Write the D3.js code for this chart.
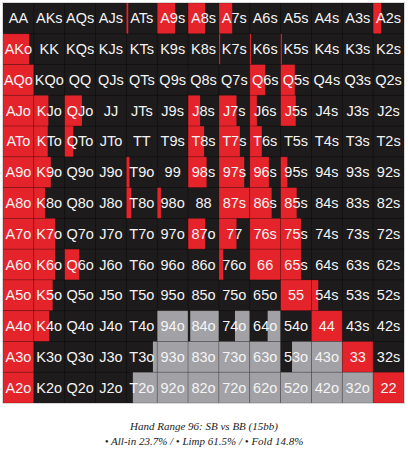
<!DOCTYPE html>
<html>
<head>
<meta charset="utf-8">
<script src="https://cdn.jsdelivr.net/npm/d3@7/dist/d3.min.js"></script>
<style>
  body { margin: 0; background: #fff; }
  svg { display: block; }
</style>
</head>
<body>
<div id="chart"></div>
<script>
const ranks = ["A","K","Q","J","T","9","8","7","6","5","4","3","2"];

// fraction of each cell that is all-in (row = first rank for offsuit/pairs, col = second)
const allInRows = [
  [0, 0, 0, 0, 0.06, 0.58, 0.55, 0.43, 0, 0, 0, 0, 0.26],
  [0.85, 0, 0, 0, 0, 0, 0, 0.04, 0.04, 0.04, 0, 0, 0],
  [1, 0, 0, 0, 0, 0, 0, 0, 0.5, 0.46, 0, 0, 0],
  [1, 0.47, 0.56, 0, 0, 0, 0.39, 0.57, 0.23, 0.49, 0, 0, 0],
  [1, 0.45, 0.28, 0, 0, 0, 0.52, 0.68, 0.39, 0, 0, 0, 0],
  [1, 0.55, 0, 0, 0.1, 0, 0.6, 0.82, 0.62, 0.22, 0, 0, 0],
  [1, 0.36, 0, 0, 0.16, 0.12, 0, 1, 0.71, 0.52, 0, 0, 0],
  [1, 0.69, 0, 0, 0, 0, 0.55, 0.57, 1, 0.66, 0, 0, 0],
  [1, 0.69, 0.47, 0, 0, 0, 0, 0.14, 1, 0.66, 0, 0, 0],
  [1, 0.61, 0, 0, 0, 0, 0, 0, 0, 1, 0.22, 0, 0],
  [1, 0.5, 0, 0, 0, 0, 0, 0, 0, 0, 1, 0, 0],
  [1, 0, 0, 0, 0, 0, 0, 0, 0, 0, 0, 1, 0],
  [1, 0, 0, 0, 0, 0, 0, 0, 0, 0, 0, 0, 1]
];

// fraction of each cell that is fold
const foldRows = [
  [0,0,0,0,0,0,0,0,0,0,0,0,0],
  [0,0,0,0,0,0,0,0,0,0,0,0,0],
  [0,0,0,0,0,0,0,0,0,0,0,0,0],
  [0,0,0,0,0,0,0,0,0,0,0,0,0],
  [0,0,0,0,0,0,0,0,0,0,0,0,0],
  [0,0,0,0,0,0,0,0,0,0,0,0,0],
  [0,0,0,0,0,0,0,0,0,0,0,0,0],
  [0,0,0,0,0,0,0,0,0,0,0,0,0],
  [0,0,0,0,0,0,0,0,0,0,0,0,0],
  [0,0,0,0,0,0,0,0,0,0,0,0,0],
  [0,0,0,0,0,1,0.93,0.48,0.42,0,0,0,0],
  [0,0,0,0,0.14,1,1,1,1,0.63,1,0,0],
  [0,0,0,0,0.79,1,1,1,1,1,1,1,0]
];

const titleText = "Hand Range 96: SB vs BB (15bb)";
const legendText = "\u2022 All-in 23.7% / \u2022 Limp 61.5% / \u2022 Fold 14.8%";

const W = 408, H = 452;
const colors = { allin: "#e5232a", limp: "#1e1b1c", fold: "#a2a2a6" };

const svg = d3.select("#chart").append("svg")
  .attr("width", W).attr("height", H)
  .style("background", "#fff");

const x = d3.scaleBand().domain(d3.range(13)).range([3, 404]).padding(0);
const y = d3.scaleBand().domain(d3.range(13)).range([3, 403]).padding(0);
const frac = d3.scaleLinear().domain([0, 1]).range([0, x.bandwidth()]);

const cells = [];
for (let r = 0; r < 13; r++) {
  for (let c = 0; c < 13; c++) {
    let label;
    if (r === c) label = ranks[r] + ranks[c];
    else if (c > r) label = ranks[r] + ranks[c] + "s";
    else label = ranks[c] + ranks[r] + "o";
    const a = allInRows[r][c], f = foldRows[r][c];
    cells.push({ r, c, label, a, f, l: Math.max(0, 1 - a - f) });
  }
}

svg.append("rect")
  .attr("x", x.range()[0]).attr("y", y.range()[0])
  .attr("width", x.range()[1] - x.range()[0])
  .attr("height", y.range()[1] - y.range()[0])
  .attr("fill", colors.limp);

const g = svg.append("g").selectAll("g").data(cells).join("g")
  .attr("transform", d => `translate(${x(d.c)},${y(d.r)})`);

g.filter(d => d.a > 0).append("rect")
  .attr("x", 0).attr("y", 0)
  .attr("width", d => frac(d.a)).attr("height", y.bandwidth())
  .attr("fill", colors.allin);

g.filter(d => d.f > 0).append("rect")
  .attr("x", d => frac(1 - d.f)).attr("y", 0)
  .attr("width", d => frac(d.f)).attr("height", y.bandwidth())
  .attr("fill", colors.fold);

g.append("rect")
  .attr("width", x.bandwidth()).attr("height", y.bandwidth())
  .attr("fill", "none")
  .attr("stroke", "rgba(0,0,0,0.22)")
  .attr("stroke-width", 0.8);

g.append("text")
  .attr("x", x.bandwidth() / 2)
  .attr("y", y.bandwidth() / 2 + 5)
  .attr("text-anchor", "middle")
  .attr("fill", "#f4f4f4")
  .style("font-family", "'Liberation Sans', Arial, sans-serif")
  .style("font-size", "14.5px")
  .text(d => d.label);

svg.append("rect")
  .attr("x", x.range()[0] - 0.5).attr("y", y.range()[0] - 0.5)
  .attr("width", x.range()[1] - x.range()[0] + 1)
  .attr("height", y.range()[1] - y.range()[0] + 1)
  .attr("fill", "none").attr("stroke", "#d8d8d8").attr("stroke-width", 1);

svg.append("text")
  .attr("x", 204).attr("y", 430)
  .attr("text-anchor", "middle")
  .attr("fill", "#222")
  .style("font-family", "'Liberation Serif', 'Times New Roman', serif")
  .style("font-style", "italic")
  .style("font-size", "11px")
  .text(titleText);

svg.append("text")
  .attr("x", 204).attr("y", 445)
  .attr("text-anchor", "middle")
  .attr("fill", "#222")
  .style("font-family", "'Liberation Serif', 'Times New Roman', serif")
  .style("font-style", "italic")
  .style("font-size", "11px")
  .text(legendText);
</script>
</body>
</html>
